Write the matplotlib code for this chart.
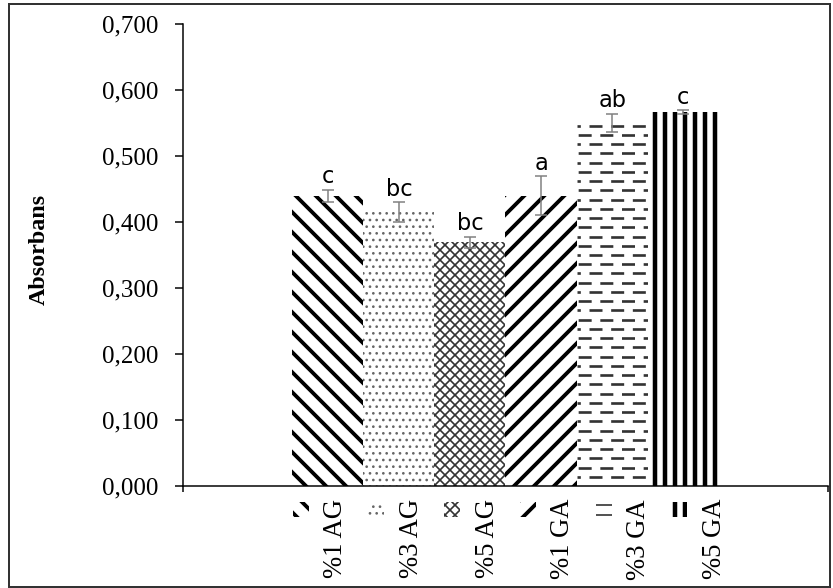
import matplotlib
matplotlib.use('Agg')
import matplotlib.pyplot as plt
import matplotlib.patches as mpatches
from matplotlib.ticker import FuncFormatter
import numpy as np

# --- data ---
groups = ['%1 AG', '%3 AG', '%5 AG', '%1 GA', '%3 GA', '%5 GA']
absorbans = [0.440, 0.415, 0.369, 0.440, 0.550, 0.566]
hata = [0.009, 0.015, 0.009, 0.029, 0.014, 0.003]
harfler = ['c', 'bc', 'bc', 'a', 'ab', 'c']

# fill pattern per bar: hatch, hatch colour, hatch line width
desen = ['\\\\', '...', 'xxxx', '//', None, '||']
desen_renk = ['black', '#666666', '#333333', 'black', '#333333', 'black']
desen_lw = [2.3, 0.8, 1.0, 2.3, 1.6, 2.7]
# small key next to each label (bar 5 gets plain dashes)
kunci = ['\\\\', '...', 'xxxx', '//', '--', '||']

plt.rcParams['lines.scale_dashes'] = False
SERIF = ['Liberation Serif', 'DejaVu Serif']

DPI = 120
fig = plt.figure(figsize=(833 / DPI, 588 / DPI), dpi=DPI)
ax = fig.add_axes([183 / 833, 102 / 588, 645 / 833, 462 / 588])

x = np.arange(len(groups))
bars = ax.bar(x, absorbans, width=1.0, color='white', linewidth=0, zorder=2)
for b, h, c, lw in zip(bars, desen, desen_renk, desen_lw):
    b.set_edgecolor(c)
    b.set_linewidth(0)
    if h:
        b.set_hatch(h)
    if hasattr(b, 'set_hatch_linewidth'):
        b.set_hatch_linewidth(lw)

# bar 5: staggered horizontal dashes, clipped to the bar
b5 = bars[4]
x0, x1 = b5.get_x(), b5.get_x() + b5.get_width()
step = 0.014
for k, yy in enumerate(np.arange(b5.get_height() - 0.004, 0, -step)):
    off = 5.8 if k % 2 == 0 else 12.3
    ln, = ax.plot([x0, x1], [yy, yy], color=desen_renk[4], lw=desen_lw[4],
                  linestyle=(off, (7.8, 5.2)), solid_capstyle='butt', zorder=2.5)
    ln.set_clip_path(b5)

ax.errorbar(x, absorbans, yerr=hata, fmt='none', ecolor='#7f7f7f',
            elinewidth=0.9, capsize=3.5, capthick=0.9, zorder=4)

for xi, v, e, t in zip(x, absorbans, hata, harfler):
    ax.annotate(t, (xi, v + e), xytext=(0, 1), textcoords='offset points',
                ha='center', va='bottom', fontsize=13.5, family='DejaVu Sans')

# axes
ax.set_ylim(0, 0.7)
ax.set_yticks(np.arange(0, 0.71, 0.1))
ax.yaxis.set_major_formatter(FuncFormatter(lambda v, p: f'{v:.3f}'.replace('.', ',')))
ax.set_xlim(-2.035, 7.035)
ax.set_xticks([-2.035, 7.035])
ax.set_xticklabels([])
ax.tick_params(axis='y', direction='out', length=4.8, width=0.9, pad=10, labelsize=15)
ax.tick_params(axis='x', direction='out', length=3.6, width=0.9)
for t in ax.get_yticklabels():
    t.set_family(SERIF)
for s in ['top', 'right']:
    ax.spines[s].set_visible(False)
for s in ['left', 'bottom']:
    ax.spines[s].set_linewidth(0.9)

ax.set_ylabel('Absorbans', fontsize=14.5, fontweight='bold', family=SERIF)
ax.yaxis.set_label_coords(-0.207, 0.511)

# labels under the axis with a small pattern key
for i, (g, h, c) in enumerate(zip(groups, kunci, desen_renk)):
    xm = 0.1822 + i * 0.1175
    key = mpatches.Rectangle((xm - 0.0124, -0.0671), 0.0248, 0.0325,
                             transform=ax.transAxes, clip_on=False,
                             facecolor='white', edgecolor=c, linewidth=0, hatch=h)
    if hasattr(key, 'set_hatch_linewidth'):
        key.set_hatch_linewidth(desen_lw[i] if i != 4 else 1.0)
    ax.add_patch(key)
    ax.text(xm + 0.0543, -0.0281, g, rotation=90, ha='center', va='top',
            transform=ax.transAxes, fontsize=16, family=SERIF)

# frame around the whole picture
fig.patches.append(mpatches.Rectangle((9 / 833, 1 / 588), 821 / 833, 583 / 588,
                                      transform=fig.transFigure, fill=False,
                                      edgecolor='#333333', linewidth=1.2))

fig.savefig('out.png', dpi=DPI)
